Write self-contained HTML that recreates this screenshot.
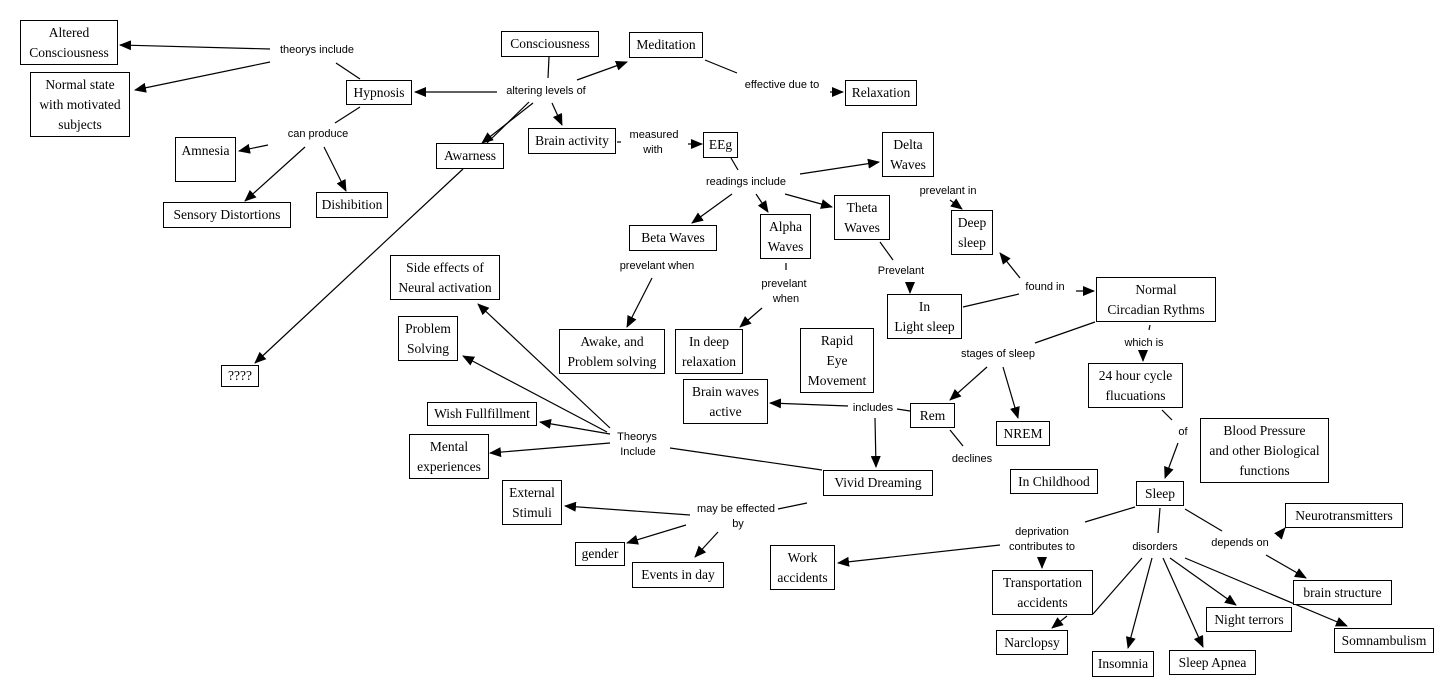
<!DOCTYPE html>
<html><head><meta charset="utf-8"><style>
html,body{margin:0;padding:0;background:#fff;}
#c{position:relative;width:1454px;height:696px;overflow:hidden;background:#fff;}
.b{position:absolute;box-sizing:border-box;border:1px solid #000;background:#fff;font-family:"Liberation Serif",serif;font-size:13.5px;line-height:20px;text-align:center;display:flex;align-items:center;justify-content:center;color:#000;}
svg{position:absolute;left:0;top:0;}
text{font-family:"Liberation Sans",sans-serif;font-size:11px;fill:#000;text-anchor:middle;}
</style></head><body><div id="c">
<svg width="1454" height="696">
<defs><marker id="a" markerUnits="userSpaceOnUse" markerWidth="12" markerHeight="10" refX="11" refY="5" orient="auto"><path d="M0,0 L12,5 L0,10 z" fill="#000"/></marker></defs>
<g stroke="#000" stroke-width="1.2" fill="none">
<line x1="270" y1="49" x2="120" y2="45" marker-end="url(#a)"/>
<line x1="270" y1="62" x2="135" y2="90" marker-end="url(#a)"/>
<line x1="360" y1="79" x2="336" y2="63"/>
<line x1="497" y1="92" x2="415" y2="92" marker-end="url(#a)"/>
<line x1="549" y1="57" x2="548" y2="78"/>
<line x1="577" y1="80" x2="627" y2="62" marker-end="url(#a)"/>
<line x1="533" y1="103" x2="482" y2="143" marker-end="url(#a)"/>
<line x1="529" y1="102" x2="487" y2="143"/>
<line x1="552" y1="103" x2="562" y2="125" marker-end="url(#a)"/>
<line x1="705" y1="60" x2="737" y2="73"/>
<line x1="830" y1="92" x2="843" y2="92" marker-end="url(#a)"/>
<line x1="360" y1="107" x2="335" y2="123"/>
<line x1="268" y1="145" x2="239" y2="151" marker-end="url(#a)"/>
<line x1="305" y1="147" x2="245" y2="201" marker-end="url(#a)"/>
<line x1="324" y1="147" x2="346" y2="191" marker-end="url(#a)"/>
<line x1="463" y1="169" x2="255" y2="363" marker-end="url(#a)"/>
<line x1="617" y1="142" x2="621" y2="142"/>
<line x1="688" y1="144" x2="702" y2="144" marker-end="url(#a)"/>
<line x1="731" y1="158" x2="738" y2="170"/>
<line x1="800" y1="174" x2="879" y2="162" marker-end="url(#a)"/>
<line x1="732" y1="194" x2="692" y2="223" marker-end="url(#a)"/>
<line x1="756" y1="194" x2="768" y2="212" marker-end="url(#a)"/>
<line x1="785" y1="194" x2="832" y2="207" marker-end="url(#a)"/>
<line x1="950" y1="200" x2="962" y2="209" marker-end="url(#a)"/>
<line x1="652" y1="278" x2="627" y2="327" marker-end="url(#a)"/>
<line x1="786" y1="263" x2="786" y2="270"/>
<line x1="762" y1="308" x2="740" y2="327" marker-end="url(#a)"/>
<line x1="880" y1="242" x2="893" y2="260"/>
<line x1="910" y1="282" x2="910" y2="293" marker-end="url(#a)"/>
<line x1="1020" y1="278" x2="1000" y2="253" marker-end="url(#a)"/>
<line x1="963" y1="307" x2="1019" y2="294"/>
<line x1="1076" y1="291" x2="1094" y2="291" marker-end="url(#a)"/>
<line x1="1095" y1="322" x2="1035" y2="343"/>
<line x1="1150" y1="325" x2="1149" y2="330"/>
<line x1="1143" y1="350" x2="1143" y2="361" marker-end="url(#a)"/>
<line x1="987" y1="367" x2="950" y2="400" marker-end="url(#a)"/>
<line x1="1003" y1="367" x2="1018" y2="418" marker-end="url(#a)"/>
<line x1="1162" y1="410" x2="1172" y2="420"/>
<line x1="1178" y1="443" x2="1165" y2="478" marker-end="url(#a)"/>
<line x1="910" y1="411" x2="897" y2="409"/>
<line x1="848" y1="406" x2="770" y2="403" marker-end="url(#a)"/>
<line x1="875" y1="418" x2="876" y2="467" marker-end="url(#a)"/>
<line x1="950" y1="430" x2="963" y2="446"/>
<line x1="610" y1="428" x2="478" y2="304" marker-end="url(#a)"/>
<line x1="607" y1="432" x2="463" y2="356" marker-end="url(#a)"/>
<line x1="610" y1="434" x2="540" y2="422" marker-end="url(#a)"/>
<line x1="610" y1="443" x2="490" y2="453" marker-end="url(#a)"/>
<line x1="822" y1="470" x2="670" y2="448"/>
<line x1="807" y1="503" x2="778" y2="509"/>
<line x1="690" y1="515" x2="565" y2="506" marker-end="url(#a)"/>
<line x1="686" y1="525" x2="627" y2="543" marker-end="url(#a)"/>
<line x1="718" y1="532" x2="695" y2="557" marker-end="url(#a)"/>
<line x1="1135" y1="507" x2="1085" y2="522"/>
<line x1="1000" y1="545" x2="838" y2="563" marker-end="url(#a)"/>
<line x1="1042" y1="557" x2="1042" y2="568" marker-end="url(#a)"/>
<line x1="1093" y1="614" x2="1142" y2="558"/>
<line x1="1067" y1="616" x2="1052" y2="628" marker-end="url(#a)"/>
<line x1="1160" y1="508" x2="1158" y2="533"/>
<line x1="1152" y1="558" x2="1128" y2="648" marker-end="url(#a)"/>
<line x1="1163" y1="558" x2="1203" y2="647" marker-end="url(#a)"/>
<line x1="1170" y1="558" x2="1236" y2="605" marker-end="url(#a)"/>
<line x1="1185" y1="558" x2="1347" y2="626" marker-end="url(#a)"/>
<line x1="1185" y1="509" x2="1222" y2="531"/>
<line x1="1280" y1="534" x2="1285" y2="528" marker-end="url(#a)"/>
<line x1="1266" y1="555" x2="1306" y2="578" marker-end="url(#a)"/>
</g>
<text x="317" y="53">theorys include</text>
<text x="546" y="94">altering levels of</text>
<text x="782" y="88">effective due to</text>
<text x="318" y="137">can produce</text>
<text x="654" y="138">measured</text><text x="653" y="153">with</text>
<text x="746" y="185">readings include</text>
<text x="948" y="194">prevelant in</text>
<text x="657" y="269">prevelant when</text>
<text x="784" y="287">prevelant</text><text x="786" y="302">when</text>
<text x="901" y="274">Prevelant</text>
<text x="1045" y="290">found in</text>
<text x="1144" y="346">which is</text>
<text x="998" y="357">stages of sleep</text>
<text x="873" y="411">includes</text>
<text x="1183" y="435">of</text>
<text x="972" y="462">declines</text>
<text x="637" y="440">Theorys</text><text x="638" y="455">Include</text>
<text x="736" y="512">may be effected</text><text x="738" y="527">by</text>
<text x="1042" y="535">deprivation</text><text x="1042" y="550">contributes to</text>
<text x="1155" y="550">disorders</text>
<text x="1240" y="546">depends on</text>
</svg>
<div class="b" style="left:20px;top:20px;width:98px;height:45px">Altered<br>Consciousness</div>
<div class="b" style="left:30px;top:72px;width:100px;height:65px">Normal state<br>with motivated<br>subjects</div>
<div class="b" style="left:346px;top:80px;width:66px;height:25px">Hypnosis</div>
<div class="b" style="left:501px;top:31px;width:98px;height:26px">Consciousness</div>
<div class="b" style="left:629px;top:32px;width:74px;height:26px">Meditation</div>
<div class="b" style="left:845px;top:80px;width:72px;height:26px">Relaxation</div>
<div class="b" style="left:175px;top:137px;width:61px;height:45px;align-items:flex-start;padding-top:3px">Amnesia</div>
<div class="b" style="left:436px;top:143px;width:68px;height:26px">Awarness</div>
<div class="b" style="left:528px;top:128px;width:88px;height:26px">Brain activity</div>
<div class="b" style="left:703px;top:132px;width:35px;height:26px">EEg</div>
<div class="b" style="left:163px;top:202px;width:128px;height:26px">Sensory Distortions</div>
<div class="b" style="left:316px;top:192px;width:72px;height:26px">Dishibition</div>
<div class="b" style="left:882px;top:132px;width:52px;height:45px">Delta<br>Waves</div>
<div class="b" style="left:951px;top:210px;width:42px;height:45px">Deep<br>sleep</div>
<div class="b" style="left:629px;top:225px;width:88px;height:26px">Beta Waves</div>
<div class="b" style="left:760px;top:214px;width:51px;height:45px">Alpha<br>Waves</div>
<div class="b" style="left:834px;top:195px;width:56px;height:45px">Theta<br>Waves</div>
<div class="b" style="left:390px;top:255px;width:110px;height:45px">Side effects of<br>Neural activation</div>
<div class="b" style="left:398px;top:316px;width:60px;height:45px">Problem<br>Solving</div>
<div class="b" style="left:221px;top:365px;width:38px;height:22px">????</div>
<div class="b" style="left:559px;top:329px;width:106px;height:45px">Awake, and<br>Problem solving</div>
<div class="b" style="left:675px;top:329px;width:68px;height:45px">In deep<br>relaxation</div>
<div class="b" style="left:800px;top:328px;width:74px;height:65px">Rapid<br>Eye<br>Movement</div>
<div class="b" style="left:887px;top:294px;width:75px;height:45px">In<br>Light sleep</div>
<div class="b" style="left:1096px;top:277px;width:120px;height:45px">Normal<br>Circadian Rythms</div>
<div class="b" style="left:683px;top:379px;width:85px;height:45px">Brain waves<br>active</div>
<div class="b" style="left:910px;top:403px;width:45px;height:25px">Rem</div>
<div class="b" style="left:427px;top:402px;width:110px;height:24px">Wish Fullfillment</div>
<div class="b" style="left:996px;top:421px;width:54px;height:25px">NREM</div>
<div class="b" style="left:409px;top:434px;width:80px;height:45px">Mental<br>experiences</div>
<div class="b" style="left:1088px;top:363px;width:95px;height:45px">24 hour cycle<br>flucuations</div>
<div class="b" style="left:1200px;top:418px;width:129px;height:65px">Blood Pressure<br>and other Biological<br>functions</div>
<div class="b" style="left:1010px;top:469px;width:88px;height:25px">In Childhood</div>
<div class="b" style="left:823px;top:470px;width:110px;height:26px">Vivid Dreaming</div>
<div class="b" style="left:502px;top:480px;width:60px;height:45px">External<br>Stimuli</div>
<div class="b" style="left:1136px;top:481px;width:48px;height:25px">Sleep</div>
<div class="b" style="left:1285px;top:503px;width:118px;height:25px">Neurotransmitters</div>
<div class="b" style="left:575px;top:542px;width:50px;height:24px">gender</div>
<div class="b" style="left:632px;top:562px;width:92px;height:26px">Events in day</div>
<div class="b" style="left:770px;top:545px;width:65px;height:45px">Work<br>accidents</div>
<div class="b" style="left:992px;top:570px;width:101px;height:45px">Transportation<br>accidents</div>
<div class="b" style="left:1293px;top:580px;width:99px;height:25px">brain structure</div>
<div class="b" style="left:1206px;top:607px;width:86px;height:25px">Night terrors</div>
<div class="b" style="left:996px;top:630px;width:72px;height:25px">Narclopsy</div>
<div class="b" style="left:1334px;top:628px;width:100px;height:25px">Somnambulism</div>
<div class="b" style="left:1092px;top:651px;width:62px;height:26px">Insomnia</div>
<div class="b" style="left:1169px;top:650px;width:87px;height:25px">Sleep Apnea</div>
</div></body></html>
